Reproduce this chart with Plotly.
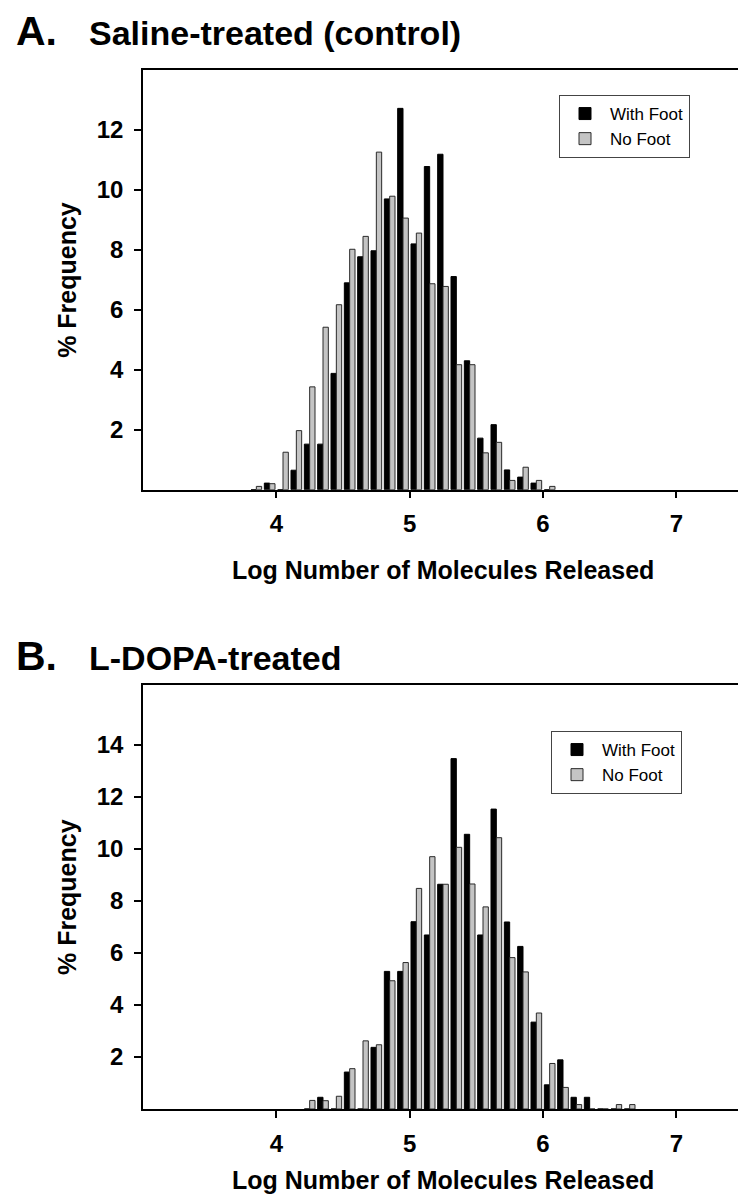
import plotly.graph_objects as go

W, H = 746, 1199

# ---------------- data ----------------
bins_a = [3.85, 3.95, 4.05, 4.15, 4.25, 4.35, 4.45, 4.55, 4.65, 4.75, 4.85, 4.95,
          5.05, 5.15, 5.25, 5.35, 5.45, 5.55, 5.65, 5.75, 5.85, 5.95, 6.05]
a_with_foot = [0, 0.22, 0, 0.65, 1.52, 1.52, 3.88, 6.9, 7.77, 7.97, 9.7, 12.72,
               8.2, 10.78, 11.19, 7.11, 4.3, 1.72, 2.17, 0.66, 0.42, 0.22, 0]
a_no_foot = [0.11, 0.2, 1.25, 1.97, 3.43, 5.42, 6.17, 8.02, 8.45, 11.26, 9.79, 9.06,
             8.56, 6.87, 6.78, 4.17, 4.17, 1.23, 1.58, 0.31, 0.75, 0.31, 0.11]

bins_b = [4.25, 4.35, 4.45, 4.55, 4.65, 4.75, 4.85, 4.95, 5.05, 5.15, 5.25, 5.35,
          5.45, 5.55, 5.65, 5.75, 5.85, 5.95, 6.05, 6.15, 6.25, 6.35, 6.45, 6.55, 6.65]
b_with_foot = [0, 0.45, 0, 1.42, 0, 2.37, 5.29, 5.29, 7.2, 6.69, 8.64, 13.47,
               10.56, 6.69, 11.53, 7.19, 6.25, 3.34, 0.93, 1.89, 0.45, 0.45, 0, 0, 0]
b_no_foot = [0.33, 0.32, 0.49, 1.55, 2.62, 2.47, 4.93, 5.63, 8.48, 9.7, 8.64, 10.06,
             8.65, 7.77, 10.43, 5.82, 5.27, 3.69, 1.75, 0.83, 0.17, 0, 0, 0.17, 0.17]

x_ticks = [4, 5, 6, 7]
y_ticks_a = [2, 4, 6, 8, 10, 12]
y_ticks_b = [2, 4, 6, 8, 10, 12, 14]

series_names = ["With Foot", "No Foot"]
panel_titles = ["Saline-treated (control)", "L-DOPA-treated"]
panel_letters = ["A.", "B."]
x_title = "Log Number of Molecules Released"
y_title = "% Frequency"

# ---------------- geometry (pixels) ----------------
PX_L, PX_R = 135, 735
A_TOP, A_BOT = 62, 481.7
B_TOP, B_BOT = 677, 1101

def px_x(p):
    return p / W

def px_y(p):
    return 1 - p / H

FONT = "Liberation Sans, Arial, Helvetica, sans-serif"
BLACK = "#000000"
GRAY = "#c4c4c4"

fig = go.Figure()

def add_pair(bins, wf, nf, xa, ya, leg):
    fig.add_trace(go.Bar(x=bins, y=wf, name=series_names[0], xaxis=xa, yaxis=ya,
                         legend=leg,
                         marker=dict(color=BLACK, line=dict(color=BLACK, width=1))))
    fig.add_trace(go.Bar(x=bins, y=nf, name=series_names[1], xaxis=xa, yaxis=ya,
                         legend=leg,
                         marker=dict(color=GRAY, line=dict(color="#2a2a2a", width=1))))

add_pair(bins_a, a_with_foot, a_no_foot, "x", "y", "legend")
add_pair(bins_b, b_with_foot, b_no_foot, "x2", "y2", "legend2")

axis_common = dict(showline=True, linecolor=BLACK, linewidth=1.5, mirror=True,
                   ticks="outside", ticklen=7, tickwidth=1.5, tickcolor=BLACK,
                   showgrid=False, zeroline=False,
                   tickfont=dict(family=FONT, size=24, color=BLACK, weight="bold"))

fig.update_layout(
    width=W, height=H,
    margin=dict(l=0, r=0, t=0, b=0),
    paper_bgcolor="white", plot_bgcolor="white",
    barmode="group", bargap=0.2, bargroupgap=0,
    xaxis=dict(domain=[px_x(PX_L), px_x(PX_R)], range=[3, 7.5], tickvals=x_ticks,
               anchor="y", ticklabelstandoff=5, **axis_common),
    yaxis=dict(domain=[px_y(A_BOT), px_y(A_TOP)], range=[0, 14], tickvals=y_ticks_a,
               anchor="x", ticklabelstandoff=6, **axis_common),
    xaxis2=dict(domain=[px_x(PX_L), px_x(PX_R)], range=[3, 7.5], tickvals=x_ticks,
                anchor="y2", ticklabelstandoff=5, **axis_common),
    yaxis2=dict(domain=[px_y(B_BOT), px_y(B_TOP)], range=[0, 16.3], tickvals=y_ticks_b,
                anchor="x2", ticklabelstandoff=6, **axis_common),
    legend=dict(x=px_x(551), y=px_y(87), xanchor="left", yanchor="top",
                bgcolor="white", bordercolor="#444", borderwidth=1,
                font=dict(family=FONT, size=17, color=BLACK), itemwidth=40,
                tracegroupgap=0),
    legend2=dict(x=px_x(543), y=px_y(723), xanchor="left", yanchor="top",
                 bgcolor="white", bordercolor="#444", borderwidth=1,
                 font=dict(family=FONT, size=17, color=BLACK), itemwidth=40,
                 tracegroupgap=0),
    showlegend=True,
)

ann = []
LET_SIZE = 41
SUB_SIZE = 34
# panel letters and titles (positions given by text baseline in px)
for letter, title, ybase in [(panel_letters[0], panel_titles[0], 38),
                             (panel_letters[1], panel_titles[1], 663)]:
    ann.append(dict(text=letter, x=px_x(7), y=px_y(ybase + 0.212 * LET_SIZE),
                    xref="paper", yref="paper", borderpad=0,
                    xanchor="left", yanchor="bottom", showarrow=False,
                    font=dict(family=FONT, size=LET_SIZE, color=BLACK, weight="bold")))
    ann.append(dict(text=title, x=px_x(80), y=px_y(ybase + 0.212 * SUB_SIZE),
                    xref="paper", yref="paper", borderpad=0,
                    xanchor="left", yanchor="bottom", showarrow=False,
                    font=dict(family=FONT, size=SUB_SIZE, color=BLACK, weight="bold")))
# axis titles
for ycen_x, ycen_y in [(562, (A_TOP + A_BOT) / 2), (1172, (B_TOP + B_BOT) / 2)]:
    ann.append(dict(text=x_title, x=px_x((PX_L + PX_R) / 2), y=px_y(ycen_x),
                    xref="paper", yref="paper", xanchor="center", yanchor="middle",
                    showarrow=False,
                    font=dict(family=FONT, size=25, color=BLACK, weight="bold")))
    ann.append(dict(text=y_title, x=px_x(59), y=px_y(ycen_y), textangle=-90,
                    xref="paper", yref="paper", xanchor="center", yanchor="middle",
                    showarrow=False,
                    font=dict(family=FONT, size=25, color=BLACK, weight="bold")))
fig.update_layout(annotations=ann)

fig.write_html("out.html")
